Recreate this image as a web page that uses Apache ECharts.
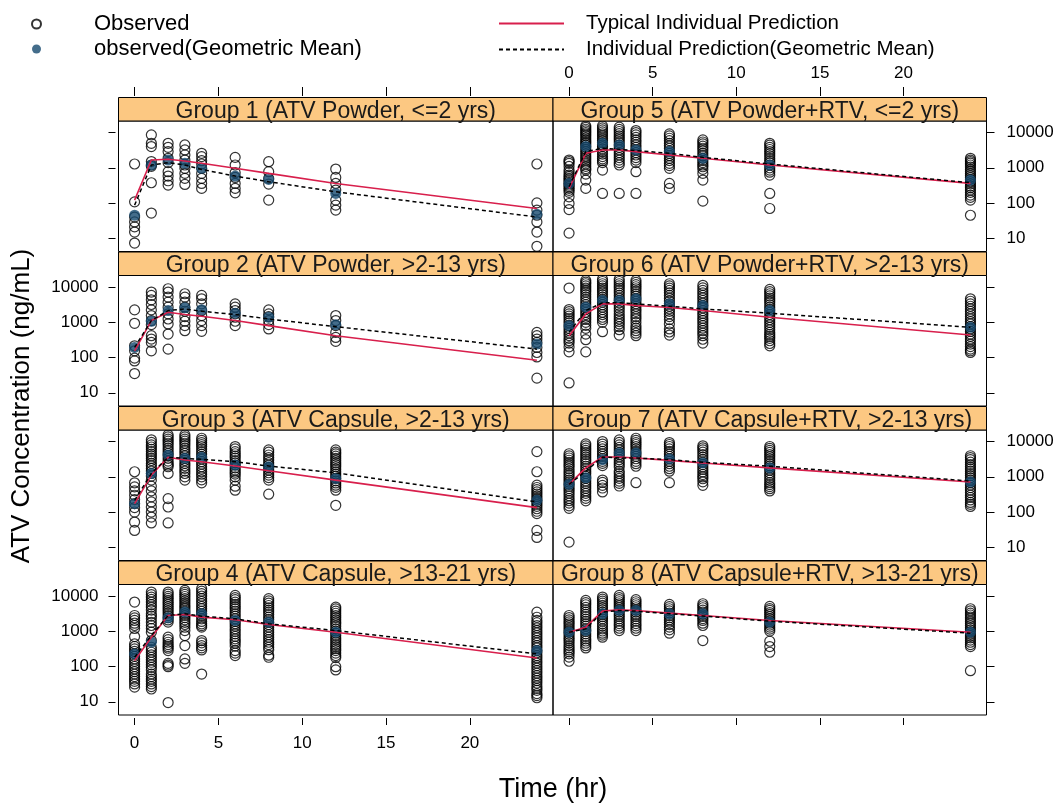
<!DOCTYPE html>
<html><head><meta charset="utf-8">
<script src="https://cdn.jsdelivr.net/npm/echarts@6/dist/echarts.min.js"></script>
<style>html,body{margin:0;padding:0;background:#fff}#c{width:1058px;height:806px}</style>
</head><body><div id="c"></div>
<script>
// ---------------- DATA ----------------
const times = [0, 1, 2, 3, 4, 6, 8, 12, 24];
const xTickLabels = [0, 5, 10, 15, 20];
const yTickValues = [10, 100, 1000, 10000];
const groupTitles = [
  'Group 1 (ATV Powder, <=2 yrs)',
  'Group 2 (ATV Powder, >2-13 yrs)',
  'Group 3 (ATV Capsule, >2-13 yrs)',
  'Group 4 (ATV Capsule, >13-21 yrs)',
  'Group 5 (ATV Powder+RTV, <=2 yrs)',
  'Group 6 (ATV Powder+RTV, >2-13 yrs)',
  'Group 7 (ATV Capsule+RTV, >2-13 yrs)',
  'Group 8 (ATV Capsule+RTV, >13-21 yrs)'
];

// observed concentrations (ng/mL), one list per nominal time
const obsG1 = [
  [1280, 108, 40, 29, 21, 15, 7.3],
  [8600, 4960, 4000, 1500, 1200, 1100, 376, 52],
  [4960, 3820, 2880, 1860, 1400, 774, 582, 428, 323],
  [4460, 3210, 2310, 1660, 1200, 964, 694, 500, 337],
  [2580, 2070, 1590, 1280, 964, 694, 500, 360, 260],
  [1980, 1200, 725, 533, 360, 260, 195],
  [1490, 774, 500, 345, 121],
  [922, 533, 360, 233, 121, 87, 63],
  [1280, 101, 63, 45, 29, 15, 5.9]
];
const obsG2 = [
  [2250, 936, 215, 155, 96, 80, 35],
  [7200, 5780, 4350, 3200, 2250, 1550, 1120, 857, 416, 334, 269, 155],
  [8960, 7200, 5180, 3730, 2680, 1730, 1240, 896, 464, 173],
  [6460, 5180, 3730, 2680, 2060, 1450, 1070, 804, 578],
  [5780, 4640, 3340, 2150, 1550, 1120, 804, 553],
  [3340, 2680, 2150, 1730, 1390, 1070, 804],
  [2250, 1730, 1450, 1120, 857, 646],
  [1550, 1120, 804, 517, 372, 287],
  [517, 416, 334, 269, 193, 139, 104, 26]
];
const obsG3 = [
  [1390, 675, 517, 398, 299, 225, 173, 133, 100, 52, 30],
  [11200, 9500, 8030, 7000, 6040, 5200, 4440, 3900, 3340, 2900, 2400, 2050, 1730, 1450, 1240, 1050, 804, 541, 398, 269, 193, 139, 100, 72, 49],
  [15500, 13500, 11700, 10300, 8960, 7700, 6460, 5500, 4640, 4000, 3340, 2800, 2400, 2150, 1930, 1240, 240, 139, 49],
  [15500, 13500, 11700, 10300, 8960, 7700, 6460, 5500, 4640, 3900, 3340, 2900, 2400, 2050, 1730, 1450, 1240, 1000, 804],
  [12400, 10800, 9360, 8200, 7200, 6100, 5180, 4400, 3730, 3200, 2680, 2300, 1930, 1650, 1390, 1180, 1000, 820, 675],
  [7200, 6200, 5180, 4500, 3890, 3400, 2860, 2500, 2150, 1800, 1550, 1350, 1190, 1000, 804, 541, 416],
  [5780, 5000, 4160, 3500, 2990, 2500, 2150, 1800, 1550, 1300, 1120, 950, 804, 320],
  [5780, 5000, 4450, 3850, 3340, 2900, 2510, 2200, 1930, 1650, 1390, 1200, 1040, 900, 769, 670, 578, 500, 416, 155],
  [5180, 1390, 580, 496, 430, 372, 325, 281, 245, 215, 190, 166, 145, 124, 105, 90, 30, 19]
];
const obsG4 = [
  [6750, 2810, 2400, 2030, 1700, 1460, 1200, 710, 439, 370, 316, 270, 228, 195, 164, 140, 118, 100, 85, 72, 61, 52, 44, 38, 32, 26],
  [13000, 11000, 9370, 8000, 6750, 5700, 4860, 4000, 3140, 2700, 2260, 1800, 1460, 1200, 942, 546, 352, 300, 254, 215, 183, 155, 132, 112, 95, 80, 61, 52, 44, 38, 32, 27, 23],
  [13000, 11300, 9790, 8600, 7530, 6600, 5790, 5000, 4360, 3800, 3280, 2800, 2420, 2100, 1820, 679, 580, 489, 420, 368, 330, 283, 123, 110, 99, 9.5],
  [14500, 12700, 11100, 9700, 8400, 7300, 6320, 5500, 4860, 4300, 3740, 3200, 2810, 2450, 2120, 1800, 1560, 1300, 1050, 757, 393, 164, 123],
  [16200, 13800, 11700, 10000, 8400, 7100, 6050, 5100, 4360, 3700, 3140, 2700, 2260, 1900, 1630, 1450, 1310, 546, 470, 393, 340, 296, 61],
  [10400, 9000, 7870, 6700, 5790, 5000, 4360, 3700, 3140, 2700, 2260, 1900, 1630, 1400, 1170, 1000, 845, 720, 608, 530, 458, 380, 283, 240, 204],
  [8400, 7300, 6320, 5400, 4660, 4000, 3500, 3000, 2520, 2150, 1820, 1550, 1310, 1100, 942, 800, 679, 580, 489, 420, 352, 300, 210, 183],
  [4860, 4300, 3740, 3250, 2810, 2450, 2120, 1850, 1630, 1400, 1170, 1020, 883, 760, 650, 570, 489, 420, 368, 320, 283, 240, 204, 180, 99, 80],
  [3500, 2500, 2030, 1750, 1460, 1250, 1050, 900, 757, 650, 546, 470, 393, 340, 283, 245, 204, 175, 147, 125, 106, 90, 76, 65, 55, 47, 40, 34, 28, 24, 21, 17, 15, 13]
];
const obsG5 = [
  [1660, 1500, 1340, 1100, 863, 740, 622, 560, 500, 450, 402, 360, 323, 290, 260, 230, 200, 150, 97, 65, 14],
  [15500, 14000, 12400, 11100, 10000, 9000, 8030, 7000, 6180, 5500, 4960, 4400, 3820, 3300, 2880, 2500, 2160, 1900, 1660, 1450, 1280, 1100, 950, 863, 664, 448, 260],
  [15500, 13500, 11900, 10400, 9160, 8000, 6890, 6000, 5190, 4500, 3990, 3400, 2880, 2450, 2070, 1800, 1590, 1400, 863, 187],
  [14200, 12300, 10700, 9300, 8040, 7000, 6180, 5300, 4460, 3800, 3210, 2700, 2310, 1950, 1660, 1400, 1200, 187],
  [11400, 10000, 8580, 7300, 6180, 5300, 4460, 3800, 3210, 2700, 2310, 1950, 1660, 1400, 774, 187],
  [9160, 8000, 6900, 5900, 4960, 4200, 3580, 3000, 2580, 2200, 1860, 1600, 1340, 1150, 964, 360, 260],
  [6180, 5400, 4750, 4100, 3580, 3100, 2580, 2200, 1860, 1600, 1400, 1200, 1070, 900, 694, 448, 113],
  [4960, 4400, 3820, 3300, 2880, 2500, 2160, 1850, 1590, 1400, 1200, 1000, 863, 750, 622, 187, 70],
  [1860, 1650, 1490, 1350, 1200, 1050, 902, 800, 694, 610, 533, 470, 402, 350, 303, 270, 233, 200, 168, 145, 121, 45]
];
const obsG6 = [
  [9360, 2300, 2000, 1730, 1500, 1300, 1100, 957, 800, 675, 580, 496, 420, 349, 300, 257, 200, 145, 19],
  [15500, 13800, 12400, 10800, 9360, 8200, 7200, 6100, 5180, 4400, 3730, 3150, 2680, 2300, 1930, 1650, 1390, 1200, 1000, 820, 675, 464, 320, 145],
  [16600, 14400, 12400, 10800, 9360, 8200, 7200, 6100, 5180, 4400, 3730, 3150, 2680, 2300, 1930, 1650, 1390, 1200, 1000, 541],
  [16600, 14400, 12400, 10800, 9360, 8000, 6890, 5800, 4850, 4200, 3570, 3000, 2510, 2100, 1730, 1450, 1240, 1050, 896, 750, 617, 435],
  [15500, 13500, 11700, 10200, 8960, 7600, 6460, 5500, 4640, 3950, 3340, 2850, 2400, 2050, 1730, 1450, 1240, 1000, 804, 680, 578, 490, 416],
  [12400, 10800, 9360, 8000, 6890, 5800, 4850, 4000, 3340, 2850, 2400, 2050, 1730, 1450, 1190, 900, 646, 530, 435],
  [11200, 9500, 8030, 6800, 5780, 4900, 4160, 3500, 2990, 2550, 2150, 1800, 1550, 1300, 1120, 950, 804, 680, 578, 490, 416, 330, 257],
  [8580, 7400, 6460, 5600, 4850, 4250, 3730, 3150, 2680, 2300, 1930, 1650, 1390, 1180, 1000, 850, 720, 610, 517, 450, 398, 350, 299, 250, 215],
  [4640, 3950, 3340, 2850, 2400, 2050, 1730, 1450, 1240, 1050, 896, 760, 646, 550, 464, 400, 334, 290, 240, 205, 173, 155, 139]
];
const obsG7 = [
  [4510, 3900, 3410, 2950, 2580, 2250, 1990, 1700, 1440, 1250, 1090, 940, 807, 700, 610, 530, 461, 400, 341, 290, 242, 210, 179, 150, 127, 14],
  [8600, 7500, 6500, 5650, 4920, 4250, 3640, 3150, 2750, 2350, 1990, 1700, 1440, 1240, 1040, 900, 757, 650, 547, 470, 396, 340, 287, 245, 208],
  [10000, 8500, 7240, 6200, 5240, 4450, 3800, 3250, 2750, 2400, 2080, 807, 690, 571, 480, 371],
  [11100, 9500, 8070, 6850, 5840, 4950, 4230, 3650, 3060, 2600, 2220, 1900, 1440, 1240, 1040, 900, 757, 650, 547],
  [12400, 10800, 9370, 8250, 7240, 6200, 5240, 4450, 3800, 3250, 2750, 2350, 1990, 679],
  [9370, 8250, 7240, 6200, 5240, 4450, 3800, 3250, 2750, 2350, 1990, 1700, 1440, 679],
  [7570, 6650, 5840, 5000, 4230, 3600, 3060, 2600, 2220, 1900, 1610, 1370, 1160, 1000, 879, 720, 571],
  [7240, 6400, 5600, 4900, 4230, 3700, 3200, 2750, 2370, 2050, 1790, 1540, 1290, 1100, 937, 800, 679, 600, 525, 460, 396],
  [3960, 3500, 3060, 2600, 2220, 1920, 1670, 1440, 1240, 1080, 937, 800, 679, 580, 492, 420, 356, 300, 258, 220, 187, 165, 144]
];
const obsG8 = [
  [2810, 2450, 2120, 1850, 1630, 1420, 1220, 1070, 942, 820, 710, 620, 546, 470, 393, 340, 296, 260, 228, 185, 141],
  [7530, 6500, 5660, 4800, 4080, 3500, 3010, 2600, 2210, 1900, 1630, 1400, 1170, 1000, 845, 720, 608, 530, 458, 390, 337],
  [9370, 8200, 7210, 6300, 5420, 4700, 4080, 3500, 3010, 2600, 2260, 1950, 1630, 1400, 1170, 1020, 883, 780, 679],
  [10400, 9000, 7870, 6900, 6050, 5300, 4660, 4000, 3500, 3000, 2640, 2250, 1940, 1650, 1430, 1220, 1050],
  [7870, 6900, 6050, 5300, 4660, 4000, 3500, 3000, 2640, 2250, 1940, 1650, 1430, 1220, 1050],
  [5790, 5000, 4360, 3800, 3280, 2800, 2420, 2100, 1820, 1550, 1310, 1100, 883],
  [6050, 5300, 4660, 4000, 3500, 3000, 2640, 2300, 2030, 1700, 1460, 546],
  [5080, 4400, 3910, 3400, 3010, 2600, 2260, 1950, 1700, 1500, 1310, 1150, 1010, 522, 368, 254],
  [4360, 3800, 3280, 2900, 2520, 2250, 1940, 1700, 1460, 1270, 1100, 970, 845, 740, 650, 560, 489, 420, 368, 76]
];

// observed geometric means
const meanG1 = [45, 1200, 1660, 1340, 965, 582, 468, 187, 48];
const meanG2 = [193, 1070, 2150, 2570, 2270, 1810, 1390, 857, 240];
const meanG3 = [173, 1240, 4160, 3340, 3570, 2150, 1930, 896, 215];
const meanG4 = [228, 489, 2420, 3500, 3140, 2030, 1820, 942, 283];
const meanG5 = [360, 3990, 4960, 4460, 3210, 2880, 1860, 1200, 448];
const meanG6 = [804, 2680, 4160, 4160, 4640, 3340, 2990, 2150, 720];
const meanG7 = [610, 937, 3060, 4710, 4710, 3200, 2470, 1790, 708];
const meanG8 = [942, 1050, 3140, 3910, 3910, 3140, 3140, 1820, 942];

// typical individual prediction (red line)
const typG1 = [121, 1660, 1740, 1560, 1340, 965, 694, 360, 70];
const typG2 = [155, 1120, 1930, 1660, 1480, 1120, 804, 416, 84];
const typG3 = [173, 1120, 3570, 2990, 2680, 2020, 1480, 804, 133];
const typG4 = [147, 679, 2810, 3010, 2520, 2120, 1560, 942, 175];
const typG5 = [260, 2580, 3210, 3210, 2880, 2310, 1860, 1200, 360];
const typG6 = [416, 1730, 3340, 3340, 2990, 2620, 2150, 1390, 435];
const typG7 = [610, 1790, 3640, 3640, 3410, 2930, 2470, 1790, 708];
const typG8 = [942, 1310, 3740, 4080, 3910, 3280, 2810, 2030, 942];

// individual prediction, geometric mean (dashed line)
const indG1 = [87, 1200, 1400, 1200, 900, 582, 402, 208, 40];
const indG2 = [193, 1120, 2150, 2400, 2060, 1660, 1240, 752, 173];
const indG3 = [215, 1240, 3570, 3340, 3130, 2680, 2020, 1300, 193];
const indG4 = [183, 757, 2810, 3140, 2680, 2260, 1630, 1050, 228];
const indG5 = [290, 2880, 3580, 3350, 3070, 2580, 1980, 1280, 377];
const indG6 = [517, 2150, 3570, 3570, 3340, 2860, 2400, 1810, 720];
const indG7 = [610, 1440, 3640, 3410, 3410, 3060, 2580, 1990, 757];
const indG8 = [942, 1170, 3500, 3910, 3740, 3140, 2700, 1940, 883];

// ---------------- BUILD ----------------
const obsAll = [obsG1, obsG2, obsG3, obsG4, obsG5, obsG6, obsG7, obsG8];
const meanAll = [meanG1, meanG2, meanG3, meanG4, meanG5, meanG6, meanG7, meanG8];
const typAll = [typG1, typG2, typG3, typG4, typG5, typG6, typG7, typG8];
const indAll = [indG1, indG2, indG3, indG4, indG5, indG6, indG7, indG8];

const FONT = '"Liberation Sans", Arial, Helvetica, sans-serif';
const LEFTS = [118.5, 553];
const WIDTHS = [434.5, 433.5];
const TOP0 = 121, STEP = 154.5, H = 130.5, STRIP = 23.5;
const YMIN = 0.624, YMAX = 4.328;
const XMIN = -0.96, XMAX = 24.96;
const RED = '#d81f4c', BLUE = '#15496e', STRIP_FILL = '#fcc882';
const lg = v => Math.log10(v);

const grids = [], xAxes = [], yAxes = [], series = [], graphics = [];
const topAxes = [];
for (let p = 0; p < 8; p++) {
  const col = p < 4 ? 0 : 1, row = p % 4;
  const left = LEFTS[col], width = WIDTHS[col], top = TOP0 + row * STEP;
  grids.push({left, top, width, height: H, show: true, borderColor: '#000', borderWidth: 1,
    backgroundColor: 'transparent', containLabel: false, outerBoundsMode: 'none'});
  xAxes.push({gridIndex: p, type: 'value', min: XMIN, max: XMAX, position: 'bottom', offset: 3,
    axisLine: {show: false, onZero: false}, splitLine: {show: false},
    axisTick: {show: row === 3, length: 7, customValues: xTickLabels, lineStyle: {color: '#000'}},
    axisLabel: {show: row === 3 && col === 0, customValues: xTickLabels, margin: 17,
      fontSize: 17, color: '#000', fontFamily: FONT}});
  if (row === 0) {
    topAxes.push({gridIndex: p, type: 'value', min: XMIN, max: XMAX, position: 'top', offset: STRIP + 1.5,
      axisLine: {show: false, onZero: false}, splitLine: {show: false},
      axisTick: {show: true, length: 9, customValues: xTickLabels, lineStyle: {color: '#000'}},
      axisLabel: {show: col === 1, customValues: xTickLabels, margin: 14,
        fontSize: 17, color: '#000', fontFamily: FONT}});
  }
  const showY = (col === 0 && row % 2 === 1) || (col === 1 && row % 2 === 0);
  yAxes.push({gridIndex: p, type: 'value', min: YMIN, max: YMAX,
    position: col === 0 ? 'left' : 'right', offset: col === 0 ? 3 : 0,
    axisLine: {show: false, onZero: false}, splitLine: {show: false},
    axisTick: {show: true, length: col === 0 ? 7 : 8, customValues: yTickValues.map(lg), lineStyle: {color: '#000'}},
    axisLabel: {show: showY, customValues: yTickValues.map(lg), margin: col === 0 ? 17 : 20,
      fontSize: 17, color: '#000', fontFamily: FONT,
      formatter: v => String(Math.round(Math.pow(10, v)))}});

  const obsData = [];
  obsAll[p].forEach((vals, i) => vals.forEach(v => obsData.push([times[i], lg(v)])));
  series.push({name: 'Observed', type: 'scatter', xAxisIndex: p, yAxisIndex: p, data: obsData,
    symbol: 'circle', symbolSize: 10, z: 2, silent: true,
    itemStyle: {color: 'rgba(0,0,0,0)', borderColor: '#000', borderWidth: 1.2}});
  series.push({name: 'observed(Geometric Mean)', type: 'scatter', xAxisIndex: p, yAxisIndex: p,
    data: meanAll[p].map((v, i) => [times[i], lg(v)]), symbol: 'circle', symbolSize: 11, z: 3, silent: true,
    itemStyle: {color: BLUE}});
  series.push({name: 'Typical Individual Prediction', type: 'line', xAxisIndex: p, yAxisIndex: p,
    data: typAll[p].map((v, i) => [times[i], lg(v)]), symbol: 'none', z: 4, silent: true,
    lineStyle: {color: RED, width: 1.6}, itemStyle: {color: RED}});
  series.push({name: 'Individual Prediction(Geometric Mean)', type: 'line', xAxisIndex: p, yAxisIndex: p,
    data: indAll[p].map((v, i) => [times[i], lg(v)]), symbol: 'none', z: 5, silent: true,
    lineStyle: {color: '#000', width: 1.5, type: [4, 3]}, itemStyle: {color: '#000'}});

  graphics.push({type: 'rect', z: 10, shape: {x: left, y: top - STRIP, width: width, height: STRIP},
    style: {fill: STRIP_FILL, stroke: '#000', lineWidth: 1}});
  graphics.push({type: 'text', z: 11, x: left + width / 2, y: top - STRIP / 2 + 2,
    style: {text: groupTitles[p], fontSize: 23, fontFamily: FONT, fill: '#1a1a1a',
      align: 'center', verticalAlign: 'middle'}});
}
xAxes.push(...topAxes);

graphics.push({type: 'text', x: 22, y: 406, rotation: Math.PI / 2,
  style: {text: 'ATV Concentration (ng/mL)', fontSize: 26, fontFamily: FONT, fill: '#000',
    align: 'center', verticalAlign: 'middle'}});
graphics.push({type: 'text', x: 553, y: 790,
  style: {text: 'Time (hr)', fontSize: 27, fontFamily: FONT, fill: '#000',
    align: 'center', verticalAlign: 'middle'}});

const chart = echarts.init(document.getElementById('c'), null, {renderer: 'canvas'});
chart.setOption({
  animation: false,
  backgroundColor: '#fff',
  legend: [
    {data: ['Observed', 'observed(Geometric Mean)'], left: 26, top: 8, orient: 'vertical',
      itemWidth: 9, itemHeight: 9, itemGap: 3, selectedMode: false,
      textStyle: {fontSize: 22, color: '#000', fontFamily: FONT, padding: [0, 0, 0, 48]}},
    {data: ['Typical Individual Prediction', 'Individual Prediction(Geometric Mean)'], left: 493, top: 8,
      orient: 'vertical', itemWidth: 65, itemHeight: 12, itemGap: 5, selectedMode: false,
      itemStyle: {color: 'rgba(0,0,0,0)', borderColor: 'rgba(0,0,0,0)', borderWidth: 0, opacity: 0},
      textStyle: {fontSize: 20.5, color: '#000', fontFamily: FONT, padding: [0, 0, 0, 17]}}
  ],
  grid: grids,
  xAxis: xAxes,
  yAxis: yAxes,
  series: series,
  graphic: graphics
});
</script></body></html>
